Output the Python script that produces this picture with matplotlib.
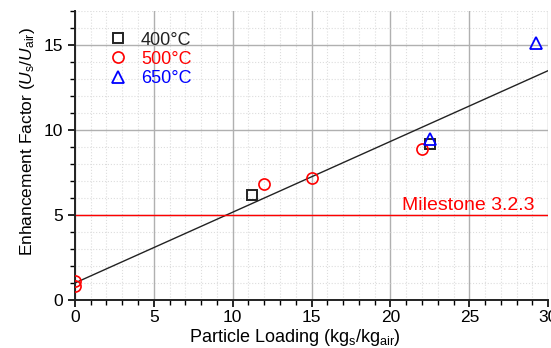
import numpy as np
import matplotlib.pyplot as plt
from matplotlib.ticker import MultipleLocator

plt.rcParams['font.family'] = ['Liberation Sans', 'DejaVu Sans']
plt.rcParams['mathtext.fontset'] = 'custom'
plt.rcParams['mathtext.rm'] = 'Liberation Sans'
plt.rcParams['mathtext.it'] = 'Liberation Sans:italic'

# data
x_400 = [11.2, 22.5]
y_400 = [6.2, 9.2]
x_500 = [0.0, 0.0, 12.0, 15.0, 22.0]
y_500 = [1.1, 0.8, 6.85, 7.2, 8.9]
x_650 = [22.5, 29.2]
y_650 = [9.45, 15.1]
fit_x = [0.0, 30.0]
fit_y = [1.0, 13.5]
milestone = 5.0

fig = plt.figure(figsize=(5.51, 3.48), dpi=100)
ax = fig.add_axes([0.136, 0.138, 0.859, 0.830])

# grid
ax.xaxis.set_major_locator(MultipleLocator(5))
ax.xaxis.set_minor_locator(MultipleLocator(1))
ax.yaxis.set_major_locator(MultipleLocator(5))
ax.yaxis.set_minor_locator(MultipleLocator(1))
ax.grid(which='major', color='#b0b0b0', lw=1.0)
ax.grid(which='minor', color='#dddddd', lw=0.8, ls=':')
ax.set_axisbelow(True)

ax.plot(fit_x, fit_y, color='#222222', lw=1.0, zorder=2)
ax.axhline(milestone, color='red', lw=1.0, zorder=2)
ax.text(20.7, 5.3, 'Milestone 3.2.3', color='red', fontsize=14)

ax.plot(x_400, y_400, 's', mfc='none', mec='#222222', mew=1.4, ms=7,
        label='400\u00b0C', zorder=3)
ax.plot(x_500, y_500, 'o', mfc='none', mec='red', mew=1.2, ms=8,
        label='500\u00b0C', zorder=3)
ax.plot(x_650, y_650, '^', mfc='none', mec='blue', mew=1.3, ms=8,
        label='650\u00b0C', zorder=4)

leg = ax.legend(loc='upper left', bbox_to_anchor=(0.05, 0.967), frameon=False,
                fontsize=13, handlelength=1.0, handletextpad=0.75,
                labelspacing=0.12, borderaxespad=0.2)
for t, c in zip(leg.get_texts(), ['#222222', 'red', 'blue']):
    t.set_color(c)

ax.set_xlim(0, 30)
ax.set_ylim(0, 17)

for s in ['top', 'right']:
    ax.spines[s].set_visible(False)
for s in ['left', 'bottom']:
    ax.spines[s].set_linewidth(1.4)
    ax.spines[s].set_color('#222222')

ax.tick_params(which='major', direction='out', length=5, width=1.2, labelsize=12.5)
ax.tick_params(which='minor', direction='out', length=3.5, width=1.0)
ax.tick_params(axis='x', pad=2)

ax.set_xlabel('Particle Loading (kg$_\\mathrm{s}$/kg$_\\mathrm{air}$)', fontsize=13)
ax.set_ylabel('Enhancement Factor ($U_\\mathrm{s}$/$U_\\mathrm{air}$)', fontsize=12.5)
ax.xaxis.set_label_coords(0.465, -0.092)
ax.yaxis.set_label_coords(-0.08, 0.55)

fig.savefig('out.png', dpi=100)
